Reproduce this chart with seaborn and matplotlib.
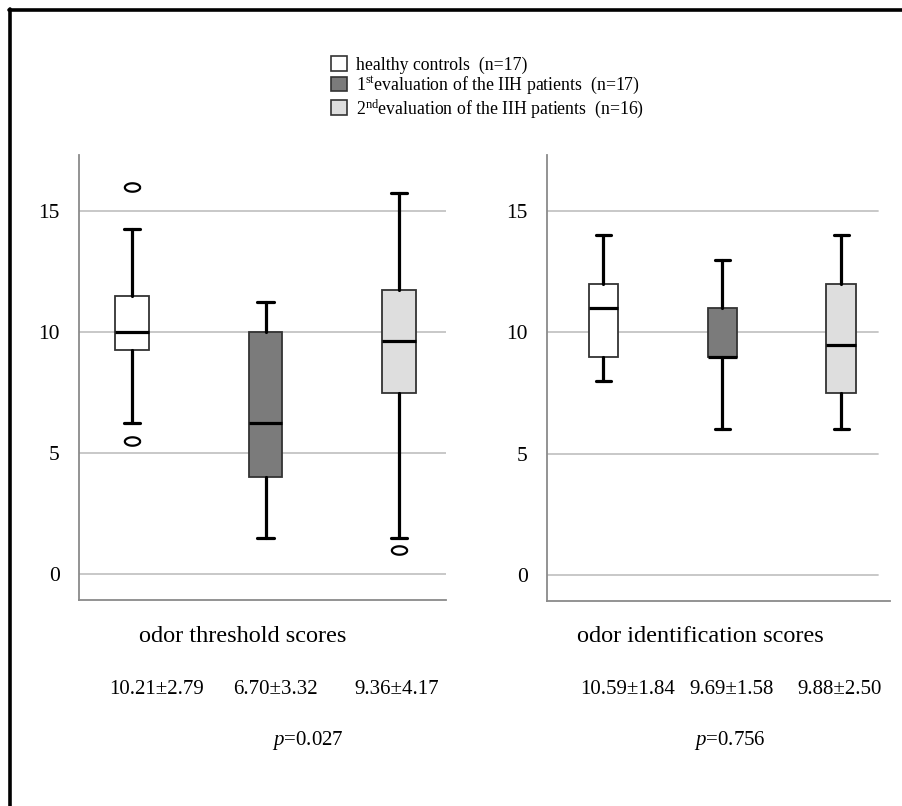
import numpy as np
import matplotlib
matplotlib.use("Agg")
import matplotlib.pyplot as plt
from matplotlib.path import Path
from matplotlib.patches import Patch
from matplotlib.lines import Line2D
import seaborn as sns

# ---------------- data ----------------
groups = ["healthy controls  (n=17)",
          "1$^{\\mathrm{st}}$evaluation of the IIH patients  (n=17)",
          "2$^{\\mathrm{nd}}$evaluation of the IIH patients  (n=16)"]
group_colors = ["#ffffff", "#7b7b7b", "#dedede"]

thr_whislo = [6.25, 1.5, 1.5]
thr_q1 = [9.25, 4.0, 7.5]
thr_med = [10.0, 6.25, 9.625]
thr_q3 = [11.5, 10.0, 11.75]
thr_whishi = [14.25, 11.25, 15.75]
thr_fliers = [[16.0, 5.5], [], [1.0]]
thr_summary = ["10.21±2.79", "6.70±3.32", "9.36±4.17"]
thr_p = "0.027"

idn_whislo = [8.0, 6.0, 6.0]
idn_q1 = [9.0, 9.0, 7.5]
idn_med = [11.0, 9.0, 9.5]
idn_q3 = [12.0, 11.0, 12.0]
idn_whishi = [14.0, 13.0, 14.0]
idn_fliers = [[], [], []]
idn_summary = ["10.59±1.84", "9.69±1.58", "9.88±2.50"]
idn_p = "0.756"

panel_titles = ["odor threshold scores", "odor identification scores"]
yticks = [0, 5, 10, 15]

# ---------------- style ----------------
sns.set_theme(style="white")
plt.rcParams["font.family"] = ["Liberation Serif", "DejaVu Serif"]
plt.rcParams["mathtext.fontset"] = "custom"
plt.rcParams["mathtext.rm"] = "Liberation Serif"
plt.rcParams["mathtext.it"] = "Liberation Serif:italic"
plt.rcParams["text.color"] = "black"
plt.rcParams["ytick.color"] = "black"
plt.rcParams["xtick.color"] = "black"
plt.rcParams["axes.labelcolor"] = "black"

W, H = 903, 806
fig = plt.figure(figsize=(W / 100, H / 100), dpi=100)
fig.patch.set_facecolor("white")

def fx(x):
    return x / W

def fy(y):
    return 1 - y / H

ax1 = fig.add_axes([fx(79), fy(600), fx(446 - 79), (600 - 155) / H])
ax2 = fig.add_axes([fx(547), fy(601), fx(890 - 547), (601 - 155) / H])

theta = np.linspace(0, 2 * np.pi, 60)
ellipse = Path(np.column_stack([np.cos(theta), 0.55 * np.sin(theta)]))


def make_stats(lo, q1, med, q3, hi, fl):
    return [dict(whislo=a, q1=b, med=c, q3=d, whishi=e, fliers=f, label="")
            for a, b, c, d, e, f in zip(lo, q1, med, q3, hi, fl)]


def draw(ax, stats, xlim, grid_frac):
    ax.set_ylim(-1.07, 17.31)
    ax.set_xlim(*xlim)
    for t in yticks:
        ax.axhline(t, xmin=0, xmax=grid_frac, color="#c4c4c4", lw=1.3, zorder=0)
    bp = ax.bxp(stats, positions=[0, 1, 2], widths=0.25, patch_artist=True,
                boxprops=dict(edgecolor="#333333", linewidth=1.3),
                medianprops=dict(color="black", linewidth=2.3),
                whiskerprops=dict(color="black", linewidth=2.3),
                capprops=dict(color="black", linewidth=2.3),
                flierprops=dict(marker=ellipse, markersize=11,
                                markerfacecolor="white", markeredgecolor="black",
                                markeredgewidth=1.6, linestyle="none"))
    for patch, c in zip(bp["boxes"], group_colors):
        patch.set_facecolor(c)
    ax.set_yticks(yticks)
    ax.set_yticklabels([str(t) for t in yticks], fontsize=15.5)
    ax.set_xticks([])
    ax.tick_params(axis="y", length=0, pad=14)
    sns.despine(ax=ax, top=True, right=True)
    for s in ["left", "bottom"]:
        ax.spines[s].set_color("#8a8a8a")
        ax.spines[s].set_linewidth(1.3)
    ax.grid(False)
    ax.set_facecolor("white")


draw(ax1, make_stats(thr_whislo, thr_q1, thr_med, thr_q3, thr_whishi, thr_fliers),
     (-0.397, 2.352), 1.0)
draw(ax2, make_stats(idn_whislo, idn_q1, idn_med, idn_q3, idn_whishi, idn_fliers),
     (-0.475, 2.41), (878 - 547) / (890 - 547))

# legend
handles = [Patch(facecolor=c, edgecolor="#333333", linewidth=1.2) for c in group_colors]
fig.legend(handles, groups, loc="center left", bbox_to_anchor=(fx(322), fy(88)),
           frameon=False, fontsize=12.8, handlelength=0.9, handleheight=0.9,
           handletextpad=0.5, labelspacing=0.05, borderpad=0)

# panel titles and summaries
fig.text(fx(243), fy(637), panel_titles[0], ha="center", va="center", fontsize=17.5)
fig.text(fx(700), fy(637), panel_titles[1], ha="center", va="center", fontsize=17.5)
for xc, s in zip([157, 275, 397], thr_summary):
    fig.text(fx(xc), fy(690), s, ha="center", va="center", fontsize=15)
for xc, s in zip([628, 732, 840], idn_summary):
    fig.text(fx(xc), fy(690), s, ha="center", va="center", fontsize=15)
fig.text(fx(308), fy(741), "$p$=" + thr_p, ha="center", va="center", fontsize=15)
fig.text(fx(730), fy(741), "$p$=" + idn_p, ha="center", va="center", fontsize=15)

# image frame (top and left border)
fig.add_artist(Line2D([fx(9), 1], [fy(9.5), fy(9.5)], color="black", lw=2.6))
fig.add_artist(Line2D([fx(10.5), fx(10.5)], [fy(9), 0], color="black", lw=2.6))

fig.savefig("out.png", dpi=100, facecolor="white")
